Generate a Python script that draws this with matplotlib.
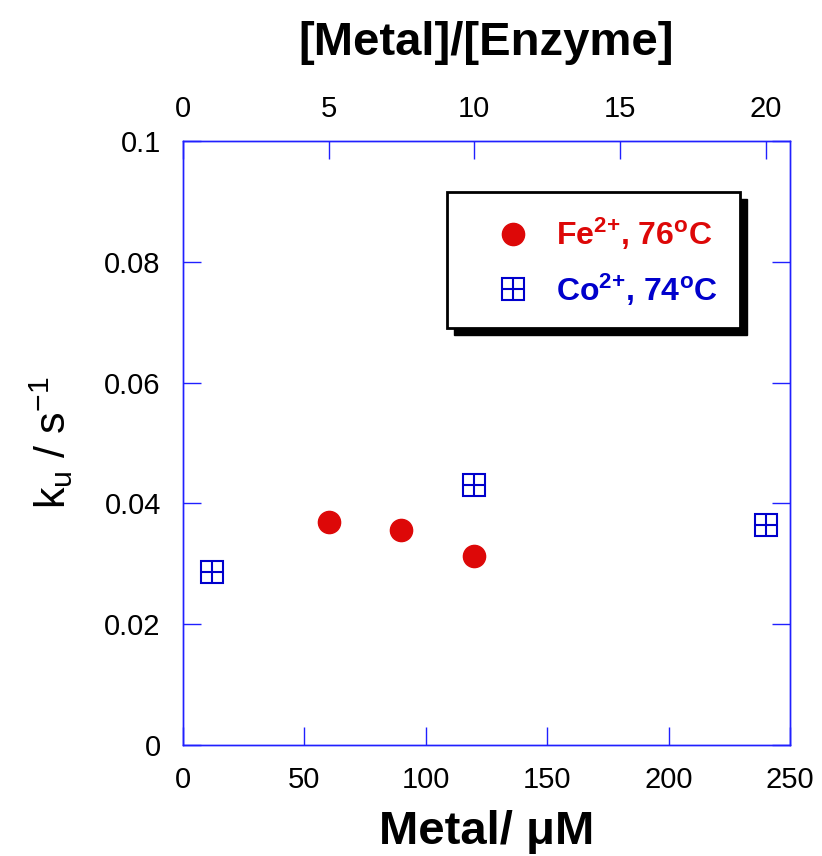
import matplotlib
matplotlib.use("Agg")
import matplotlib.pyplot as plt
from matplotlib.lines import Line2D
from matplotlib.patches import Rectangle

plt.rcParams['font.family'] = ['Liberation Sans', 'DejaVu Sans']
plt.rcParams['mathtext.default'] = 'regular'

# data
fe_metal = [60, 90, 120]
fe_ku = [0.0369, 0.0356, 0.0313]
co_metal = [12, 120, 240]
co_ku = [0.0287, 0.0431, 0.0364]

enzyme_uM = 12.0  # gives the top axis scale
top_ticks = [0, 5, 10, 15, 20]

red = '#dd0808'
blue = '#0000cc'
axis_blue = '#2020ff'

fig = plt.figure(figsize=(8.22, 8.56), dpi=100)
ax = fig.add_axes([0.2226, 0.1297, 0.7384, 0.7056])

ax.plot(fe_metal, fe_ku, 'o', color=red, ms=16, zorder=3)
ax.plot(co_metal, co_ku, 's', mfc='none', mec=blue, mew=1.5, ms=16, zorder=3)
ax.plot(co_metal, co_ku, '+', color=blue, mew=1.5, ms=16, zorder=3)

ax.set_xlim(0, 250)
ax.set_ylim(0, 0.1)
ax.set_xticks([0, 50, 100, 150, 200, 250])
ax.set_yticks([0, 0.02, 0.04, 0.06, 0.08, 0.1])
ax.set_yticklabels(['0', '0.02', '0.04', '0.06', '0.08', '0.1'])
ax.tick_params(axis='both', direction='in', length=13, width=1, color=axis_blue,
               labelsize=21)
ax.tick_params(axis='x', pad=15)
ax.tick_params(axis='y', right=True, pad=16)
for s in ax.spines.values():
    s.set_color(axis_blue)
    s.set_linewidth(1)

ax.set_xlabel('Metal/ μM', fontsize=34, fontweight='bold', labelpad=12)
ax.set_ylabel('k$_u$ / s$^{-1}$', fontsize=31, labelpad=21)

top = ax.twiny()
top.set_xlim(0, 250 / enzyme_uM)
top.set_xticks(top_ticks)
top.tick_params(axis='x', direction='in', length=13, width=1, color=axis_blue,
                labelsize=21, pad=13)
for s in top.spines.values():
    s.set_color(axis_blue)
    s.set_linewidth(1)
top.set_xlabel('[Metal]/[Enzyme]', fontsize=34, fontweight='bold', labelpad=29)

# legend box with a hard black shadow
bx, by, bw, bh = 0.435, 0.690, 0.483, 0.2256
ax.add_patch(Rectangle((bx + 0.011, by - 0.012), bw, bh, transform=ax.transAxes,
                       facecolor='black', edgecolor='black', zorder=4))
ax.add_patch(Rectangle((bx, by), bw, bh, transform=ax.transAxes,
                       facecolor='white', edgecolor='black', lw=2, zorder=5))

h_fe = Line2D([], [], marker='o', ls='none', color=red, ms=16)
h_co = (Line2D([], [], marker='s', ls='none', mfc='none', mec=blue, mew=1.5, ms=16),
        Line2D([], [], marker='+', ls='none', color=blue, mew=1.5, ms=16))
leg = ax.legend([h_fe, h_co], ['Fe$^{2{+}}$, 76$^{o}$C', 'Co$^{2{+}}$, 74$^{o}$C'],
                loc='center left', bbox_to_anchor=(0.517, 0.800),
                borderaxespad=0, borderpad=0, frameon=False,
                prop={'size': 23, 'weight': 'bold'},
                handlelength=1.0, handletextpad=0.85, labelspacing=0.6)
leg.set_zorder(6)
leg.get_texts()[0].set_color(red)
leg.get_texts()[1].set_color(blue)

fig.savefig('out.png', dpi=100)
